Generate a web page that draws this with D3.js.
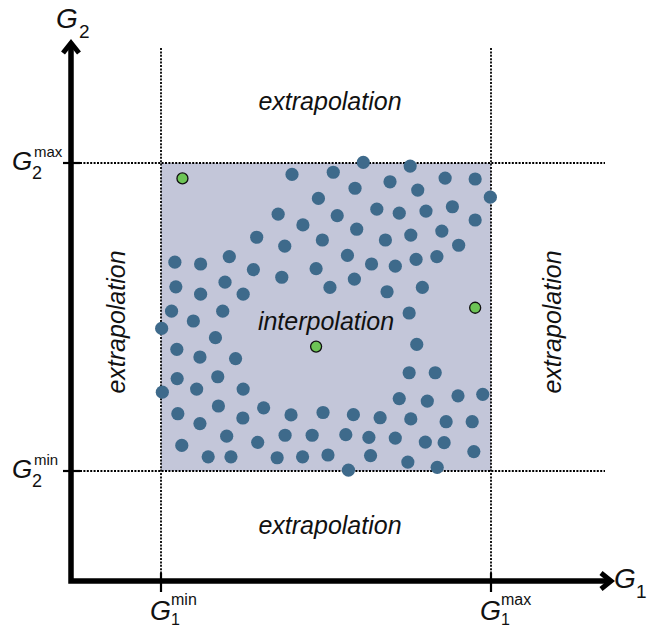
<!DOCTYPE html>
<html>
<head>
<meta charset="utf-8">
<script src="https://cdn.jsdelivr.net/npm/d3@7"></script>
<style>
  html, body { margin: 0; padding: 0; background: #fff; }
  svg { display: block; font-family: "Liberation Sans", Arial, sans-serif; }
</style>
</head>
<body>
<svg id="chart" width="657" height="629"></svg>
<script>
// ---------- data (box: G_min = 0, G_max = 10 on both axes) ----------
const trainG1 = [6.13,7.55,5.22,6.94,8.61,9.52,5.88,7.78,9.98,4.77,6.54,7.22,8.03,8.83,5.34,9.52,5.93,8.51,7.57,6.80,4.89,9.02,5.65,6.38,7.10,7.73,8.36,4.70,5.86,5.12,6.85,7.92,7.52,3.97,3.55,4.30,2.90,3.75,2.07,0.42,1.20,2.80,3.66,0.45,1.94,1.20,2.49,0.32,1.87,0.98,0.02,1.65,0.48,1.18,2.26,0.49,1.72,1.08,2.49,0.04,0.51,1.74,1.18,2.48,3.11,3.94,4.91,1.99,2.93,3.76,4.58,0.63,1.43,2.12,3.52,4.29,5.06,7.75,7.52,8.31,7.22,8.07,9.00,9.75,5.83,6.64,7.57,8.64,9.43,5.60,6.30,7.10,8.01,8.58,6.35,7.48,9.48,5.68,8.37];
const trainG2 = [10.02,9.90,9.70,9.39,9.51,9.48,9.18,9.12,8.89,8.85,8.50,8.37,8.44,8.58,8.29,8.15,7.85,7.79,7.66,7.50,7.50,7.33,7.00,6.72,6.65,6.87,6.96,6.57,6.23,5.96,5.82,5.96,5.13,9.63,8.34,7.99,7.59,7.30,6.96,6.78,6.72,6.54,6.29,5.98,6.13,5.74,5.74,5.19,5.19,4.87,4.63,4.33,3.95,3.70,3.65,3.00,3.06,2.66,2.66,2.56,1.86,2.11,1.54,1.72,2.05,1.82,1.90,1.13,0.93,1.16,1.16,0.83,0.46,0.46,0.43,0.46,0.52,4.11,3.19,3.19,2.35,2.27,2.44,2.49,1.83,1.73,1.69,1.60,1.60,1.18,1.09,1.07,0.94,0.92,0.50,0.29,0.63,0.03,0.12];
const testG1 = [0.65, 4.70, 9.52];
const testG2 = [9.50, 4.04, 5.30];

const g1Ticks = [0, 10];
const g2Ticks = [0, 10];
const g1TickSup = ["min", "max"];
const g2TickSup = ["min", "max"];

const regionLabels = ["extrapolation", "interpolation"];

// ---------- layout ----------
const svg = d3.select("#chart");
const box = { left: 161, right: 491, top: 163, bottom: 471 };
const origin = { x: 71, y: 581 };
const x = d3.scaleLinear().domain([0, 10]).range([box.left, box.right]);
const y = d3.scaleLinear().domain([0, 10]).range([box.bottom, box.top]);

const colors = { box: "#c3c6d9", dot: "#3e6a8b", test: "#6dc556", ink: "#000" };

// shaded box
svg.append("rect")
  .attr("x", x(0)).attr("y", y(10))
  .attr("width", x(10) - x(0)).attr("height", y(0) - y(10))
  .attr("fill", colors.box);

// dotted guide lines
const guides = svg.append("g")
  .attr("stroke", colors.ink).attr("stroke-width", 1.8)
  .attr("stroke-dasharray", "2,1.4").attr("fill", "none");
g1Ticks.forEach(v => {
  guides.append("line").attr("x1", x(v)).attr("x2", x(v)).attr("y1", 48).attr("y2", 576);
});
g2Ticks.forEach(v => {
  guides.append("line").attr("y1", y(v)).attr("y2", y(v)).attr("x1", 80).attr("x2", 605);
});

// region labels
const lab = svg.append("g").attr("font-style", "italic").attr("font-size", 25)
  .attr("fill", "#111").attr("text-anchor", "middle");
lab.append("text").attr("x", 330).attr("y", 110).text(regionLabels[0]);
lab.append("text").attr("x", 330).attr("y", 534).text(regionLabels[0]);
lab.append("text").attr("x", 326).attr("y", 330).text(regionLabels[1]);
lab.append("text").attr("transform", "translate(125,322) rotate(-90)").text(regionLabels[0]);
lab.append("text").attr("transform", "translate(561,322) rotate(-90)").text(regionLabels[0]);

// training points
svg.append("g").selectAll("circle")
  .data(d3.zip(trainG1, trainG2))
  .join("circle")
  .attr("cx", d => x(d[0])).attr("cy", d => y(d[1]))
  .attr("r", 6.6).attr("fill", colors.dot);

// test points
svg.append("g").selectAll("circle")
  .data(d3.zip(testG1, testG2))
  .join("circle")
  .attr("cx", d => x(d[0])).attr("cy", d => y(d[1]))
  .attr("r", 5.5).attr("fill", colors.test)
  .attr("stroke", "#111").attr("stroke-width", 1.3);

// axes
const axes = svg.append("g").attr("stroke", colors.ink).attr("fill", "none");
axes.append("path")
  .attr("d", `M${origin.x},44 V${origin.y} H608`)
  .attr("stroke-width", 5.5).attr("stroke-linejoin", "miter");
axes.append("path")
  .attr("d", `M${origin.x - 8},53 L${origin.x},43 L${origin.x + 8},53`)
  .attr("stroke-width", 5).attr("stroke-linejoin", "miter");
axes.append("path")
  .attr("d", `M601,${origin.y - 8} L611,${origin.y} L601,${origin.y + 8}`)
  .attr("stroke-width", 5).attr("stroke-linejoin", "miter");

// ticks
g1Ticks.forEach(v => {
  axes.append("line").attr("x1", x(v)).attr("x2", x(v))
    .attr("y1", origin.y - 8).attr("y2", origin.y + 11).attr("stroke-width", 2.2);
});
g2Ticks.forEach(v => {
  axes.append("line").attr("y1", y(v)).attr("y2", y(v))
    .attr("x1", origin.x - 8).attr("x2", origin.x + 9).attr("stroke-width", 2.2);
});

// tick labels
const tl = svg.append("g").attr("fill", "#111");
g1Ticks.forEach((v, i) => {
  const cx = x(v);
  tl.append("text").attr("x", cx - 11).attr("y", 620)
    .attr("font-size", 27).attr("font-style", "italic").text("G");
  tl.append("text").attr("x", cx + 10).attr("y", 605)
    .attr("font-size", 16).text(g1TickSup[i]);
  tl.append("text").attr("x", cx + 10).attr("y", 625)
    .attr("font-size", 16).text("1");
});
g2Ticks.forEach((v, i) => {
  const cy = y(v);
  tl.append("text").attr("x", 12).attr("y", cy + 7)
    .attr("font-size", 26).attr("font-style", "italic").text("G");
  tl.append("text").attr("x", 34).attr("y", cy - 6)
    .attr("font-size", 15).text(g2TickSup[i]);
  tl.append("text").attr("x", 32).attr("y", cy + 16)
    .attr("font-size", 18).text("2");
});

// axis titles
tl.append("text").attr("x", 56).attr("y", 28)
  .attr("font-size", 28).attr("font-style", "italic").text("G");
tl.append("text").attr("x", 79).attr("y", 38).attr("font-size", 19).text("2");
tl.append("text").attr("x", 614).attr("y", 588)
  .attr("font-size", 28).attr("font-style", "italic").text("G");
tl.append("text").attr("x", 636).attr("y", 598).attr("font-size", 19).text("1");
</script>
</body>
</html>
